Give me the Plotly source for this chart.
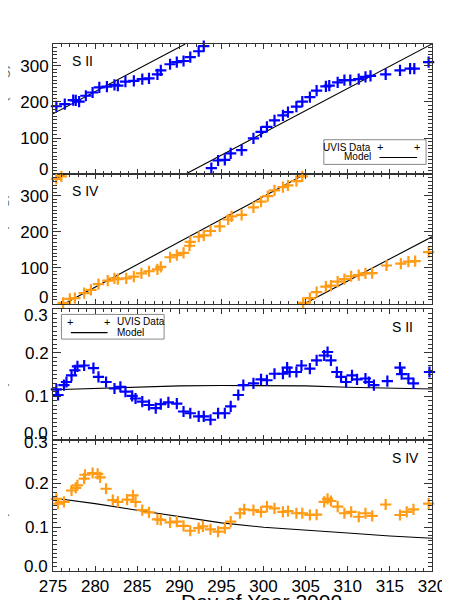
import plotly.graph_objects as go

# ---------------- data ----------------
# Panel 1: S II phase (deg)
s2_phase_day = [275.4, 276.4, 277.4, 277.7, 278.1, 278.9, 279.7, 280.5, 281.4, 282.3, 282.7,
                283.6, 284.6, 285.6, 286.4, 287.4, 287.8, 288.9, 289.7, 290.5, 291.3, 292.3,
                292.9, 293.8, 294.6, 295.4, 296.1, 297.4, 298.8, 299.7, 300.4, 301.3, 302.3,
                302.9, 303.9, 304.6, 305.5, 306.3, 307.4, 307.8, 308.8, 309.6, 310.3, 311.3,
                312.1, 312.7, 314.5, 316.2, 317.4, 317.9, 319.6]
s2_phase_val = [188, 194, 205, 204, 201, 217, 226, 240, 242, 247, 245,
                256, 258, 263, 265, 276, 287, 304, 310, 313, 324, 340,
                354, 17, 38, 40, 58, 67, 99, 117, 131, 149, 163,
                172, 187, 201, 213, 231, 243, 245, 254, 260, 260, 263,
                269, 272, 276, 287, 292, 292, 310]

# Panel 2: S IV phase (deg)
s4_phase_day = [275.4, 276.0, 276.2, 277.0, 277.6, 278.7, 279.5, 280.4, 281.5, 282.3, 282.7,
                283.7, 284.6, 285.5, 286.4, 287.4, 287.8, 288.9, 289.7, 290.5, 291.2, 291.3,
                292.3, 292.9, 293.7, 294.8, 295.8, 296.2, 297.4, 298.8, 299.7, 300.5, 301.3,
                302.3, 302.9, 303.9, 304.6, 304.7, 305.5, 306.3, 307.4, 308.0, 308.8, 309.6,
                310.4, 311.3, 312.1, 312.9, 314.6, 316.3, 317.2, 318.0, 319.6]
s4_phase_val = [347, 354, 2, 13, 15, 29, 38, 54, 64, 70, 68,
                70, 75, 84, 90, 95, 102, 129, 135, 141, 161, 172,
                186, 190, 202, 215, 234, 243, 247, 268, 284, 299, 315,
                324, 329, 341, 354, 2, 15, 32, 47, 50, 61, 68,
                76, 79, 84, 85, 106, 111, 117, 118, 143]

# Panel 3: S II amplitude
s2_amp_day = [275.4, 275.6, 276.3, 276.6, 277.2, 277.6, 277.9, 278.7, 279.8, 280.4, 281.3,
              282.3, 283.0, 283.6, 284.4, 284.8, 285.6, 286.4, 287.2, 287.8, 288.7, 289.7,
              290.5, 291.3, 292.3, 292.9, 293.7, 294.6, 295.4, 296.1, 297.0, 297.6, 298.8,
              299.7, 300.4, 301.3, 302.3, 302.8, 303.1, 303.9, 304.5, 305.5, 306.3, 307.2,
              307.6, 308.0, 308.7, 309.2, 309.8, 310.5, 311.1, 312.1, 312.5, 313.1, 314.7,
              316.2, 316.4, 317.2, 317.8, 319.7]
s2_amp_val = [0.116, 0.103, 0.126, 0.133, 0.148, 0.160, 0.169, 0.171, 0.165, 0.145, 0.133,
              0.118, 0.122, 0.111, 0.101, 0.095, 0.088, 0.080, 0.073, 0.082, 0.086, 0.083,
              0.065, 0.061, 0.054, 0.054, 0.046, 0.061, 0.061, 0.077, 0.103, 0.126, 0.130,
              0.139, 0.137, 0.152, 0.152, 0.166, 0.156, 0.156, 0.171, 0.164, 0.183, 0.194,
              0.202, 0.183, 0.156, 0.145, 0.133, 0.148, 0.139, 0.141, 0.133, 0.126, 0.135,
              0.166, 0.151, 0.141, 0.130, 0.156]

# Panel 4: S IV amplitude
s4_amp_day = [275.4, 275.6, 276.3, 277.2, 277.7, 277.9, 278.7, 278.8, 279.7, 280.3, 280.6,
              281.3, 282.1, 282.7, 283.8, 284.5, 284.8, 285.6, 286.4, 287.4, 287.8, 288.9,
              289.7, 290.5, 291.3, 292.3, 292.8, 293.7, 294.6, 295.4, 296.1, 297.2, 297.7,
              298.8, 299.7, 300.4, 301.3, 302.3, 302.9, 303.9, 304.6, 305.5, 306.3, 307.2,
              307.6, 308.0, 308.8, 309.6, 310.4, 311.3, 312.1, 312.9, 314.5, 316.2, 317.0,
              317.8, 319.6]
s4_amp_val = [0.165, 0.154, 0.158, 0.184, 0.190, 0.196, 0.211, 0.220, 0.224, 0.222, 0.214,
              0.188, 0.162, 0.158, 0.163, 0.173, 0.158, 0.139, 0.134, 0.118, 0.117, 0.111,
              0.113, 0.103, 0.092, 0.098, 0.102, 0.095, 0.090, 0.098, 0.113, 0.132, 0.141,
              0.139, 0.135, 0.147, 0.143, 0.135, 0.137, 0.132, 0.132, 0.128, 0.129, 0.158,
              0.165, 0.160, 0.147, 0.132, 0.135, 0.124, 0.132, 0.126, 0.152, 0.128, 0.135,
              0.141, 0.154]

# Model curves
s2_phase_model_day = [275, 290.7, None, 290.7, 320]
s2_phase_model_val = [167, 360, None, 0, 360]
s4_phase_model_day = [275, 276.4, None, 276.4, 304.9, None, 304.9, 320]
s4_phase_model_val = [343, 360, None, 0, 360, None, 0, 186]
amp_model_day = [275, 280, 285, 290, 295, 300, 305, 310, 315, 320]
s2_amp_model_val = [0.115, 0.118, 0.121, 0.124, 0.125, 0.125, 0.124, 0.121, 0.119, 0.117]
s4_amp_model_val = [0.167, 0.154, 0.139, 0.124, 0.110, 0.100, 0.094, 0.087, 0.080, 0.075]

x_ticks = [275, 280, 285, 290, 295, 300, 305, 310, 315, 320]
phase_ticks = [0, 100, 200, 300]
phase_ticktext = ["", "100", "200", "300"]          # "0" drawn as a shifted label below
amp_ticks = [0.0, 0.1, 0.2, 0.3]
amp_ticktext = ["", "0.1", "0.2", ""]               # end labels drawn shifted below

# ---------------- styling ----------------
BLUE = "rgb(0,0,255)"
ORANGE = "rgb(255,155,20)"
FONT = "Liberation Sans, Arial, Helvetica, sans-serif"
AX = "#333333"

W, H = 450, 600
ML, MR, MT, MB = 45, 23, 36, 30
PW, PH = W - ML - MR, H - MT - MB


def px(x):
    return (x - ML) / PW


def py(y):
    return (H - MB - y) / PH


domains = [
    [py(168), 1.0],
    [py(299), py(168)],
    [py(437), py(305)],
    [0.0, py(437)],
]

fig = go.Figure()

panels = [
    (s2_phase_day, s2_phase_val, s2_phase_model_day, s2_phase_model_val, BLUE),
    (s4_phase_day, s4_phase_val, s4_phase_model_day, s4_phase_model_val, ORANGE),
    (s2_amp_day, s2_amp_val, amp_model_day, s2_amp_model_val, BLUE),
    (s4_amp_day, s4_amp_val, amp_model_day, s4_amp_model_val, ORANGE),
]

for i, (dx, dy, mx, my, col) in enumerate(panels):
    xa = "x" if i == 0 else f"x{i+1}"
    ya = "y" if i == 0 else f"y{i+1}"
    fig.add_trace(go.Scatter(x=mx, y=my, mode="lines", xaxis=xa, yaxis=ya,
                             line=dict(color="black", width=1.1), showlegend=False,
                             connectgaps=False))
    fig.add_trace(go.Scatter(x=dx, y=dy, mode="markers", xaxis=xa, yaxis=ya,
                             marker=dict(symbol="cross-thin", size=8,
                                         line=dict(color=col, width=2.2)),
                             showlegend=False, cliponaxis=False))

layout = dict(
    width=W, height=H,
    margin=dict(l=ML, r=MR, t=MT, b=MB),
    paper_bgcolor="white", plot_bgcolor="white",
    font=dict(family=FONT, size=17, color="black"),
    showlegend=False,
)

for i in range(4):
    xk = "xaxis" if i == 0 else f"xaxis{i+1}"
    yk = "yaxis" if i == 0 else f"yaxis{i+1}"
    ya = "y" if i == 0 else f"y{i+1}"
    xa = "x" if i == 0 else f"x{i+1}"
    layout[xk] = dict(
        domain=[0, 1], anchor=ya, range=[275, 320],
        tickvals=x_ticks, showticklabels=(i == 3),
        ticks="inside", ticklen=5, tickwidth=1, tickcolor=AX,
        minor=dict(dtick=1, tick0=275, ticks="inside", ticklen=3, tickcolor=AX, tickwidth=1),
        showline=True, linecolor=AX, linewidth=1, mirror="allticks",
        showgrid=False, zeroline=False,
        tickfont=dict(size=17, family=FONT),
    )
    if i < 2:
        yd = dict(range=[0, 360], tickvals=phase_ticks, ticktext=phase_ticktext,
                  minor=dict(dtick=10, tick0=0, ticks="inside", ticklen=4, tickcolor=AX, tickwidth=1))
    else:
        yd = dict(range=[0, 0.3], tickvals=amp_ticks, ticktext=amp_ticktext,
                  minor=dict(dtick=0.01, tick0=0, ticks="inside", ticklen=4, tickcolor=AX, tickwidth=1))
    yd.update(domain=domains[i], anchor=xa,
              ticks="inside", ticklen=8, tickwidth=1, tickcolor=AX,
              showline=True, linecolor=AX, linewidth=1, mirror="allticks",
              showgrid=False, zeroline=False,
              tickfont=dict(size=17, family=FONT))
    layout[yk] = yd

fig.update_layout(**layout)

ann = []
shapes = []

# End-of-axis labels, nudged inward as in the reference
end_labels = [("y", phase_ticks[0], "0", 5), ("y2", phase_ticks[0], "0", 6),
              ("y3", amp_ticks[3], "0.3", -6), ("y3", amp_ticks[0], "0.0", 6),
              ("y4", amp_ticks[3], "0.3", -3), ("y4", amp_ticks[0], "0.0", 5)]
for yref, val, txt, shift in end_labels:
    ann.append(dict(x=px(41.5), y=val, xref="paper", yref=yref, text=txt, yshift=shift,
                    showarrow=False, xanchor="right", yanchor="middle",
                    font=dict(size=17)))

# Panel labels
ann.append(dict(x=px(62), y=py(53), xref="paper", yref="paper", text="S II",
                showarrow=False, xanchor="left", yanchor="middle", font=dict(size=14)))
ann.append(dict(x=px(62), y=py(185), xref="paper", yref="paper", text="S IV",
                showarrow=False, xanchor="left", yanchor="middle", font=dict(size=14)))
ann.append(dict(x=px(385), y=py(323), xref="paper", yref="paper", text="S II",
                showarrow=False, xanchor="left", yanchor="middle", font=dict(size=14)))
ann.append(dict(x=px(385), y=py(455), xref="paper", yref="paper", text="S IV",
                showarrow=False, xanchor="left", yanchor="middle", font=dict(size=14)))

# Legend in panel 1 (text left, symbols right)
shapes.append(dict(type="rect", xref="paper", yref="paper",
                   x0=px(318), x1=px(421), y0=py(158), y1=py(133),
                   line=dict(color="#888888", width=1), fillcolor="white"))
ann.append(dict(x=px(368), y=py(140.5), xref="paper", yref="paper", text="UVIS Data",
                showarrow=False, xanchor="right", yanchor="middle", font=dict(size=10)))
ann.append(dict(x=px(368), y=py(150.5), xref="paper", yref="paper", text="Model",
                showarrow=False, xanchor="right", yanchor="middle", font=dict(size=10)))
for xx in (375, 412):
    ann.append(dict(x=px(xx), y=py(140.5), xref="paper", yref="paper", text="+",
                    showarrow=False, xanchor="center", yanchor="middle", font=dict(size=11)))
shapes.append(dict(type="line", xref="paper", yref="paper",
                   x0=px(374), x1=px(412), y0=py(151), y1=py(151),
                   line=dict(color="black", width=1.1)))

# Legend in panel 3 (symbols left, text right)
shapes.append(dict(type="rect", xref="paper", yref="paper",
                   x0=px(53.5), x1=px(157), y0=py(335), y1=py(310),
                   line=dict(color="#888888", width=1), fillcolor="white"))
for xx in (62, 99.5):
    ann.append(dict(x=px(xx), y=py(317.5), xref="paper", yref="paper", text="+",
                    showarrow=False, xanchor="center", yanchor="middle", font=dict(size=11)))
shapes.append(dict(type="line", xref="paper", yref="paper",
                   x0=px(63), x1=px(100), y0=py(328.5), y1=py(328.5),
                   line=dict(color="black", width=1.1)))
ann.append(dict(x=px(107), y=py(317), xref="paper", yref="paper", text="UVIS Data",
                showarrow=False, xanchor="left", yanchor="middle", font=dict(size=10)))
ann.append(dict(x=px(107), y=py(328), xref="paper", yref="paper", text="Model",
                showarrow=False, xanchor="left", yanchor="middle", font=dict(size=10)))

# Axis titles (mostly cut off at the page edge, as in the reference)
for (yc, txt) in [(102, "Phase (deg)"), (233, "Phase (deg)"),
                  (371, "Amplitude"), (503, "Amplitude")]:
    ann.append(dict(x=px(4), y=py(yc), xref="paper", yref="paper", text=txt,
                    textangle=-90, showarrow=False, xanchor="right", yanchor="middle",
                    font=dict(size=17, color="#777777")))
ann.append(dict(x=px(255), y=py(587.5), xref="paper", yref="paper", text="Day of Year 2000",
                showarrow=False, xanchor="center", yanchor="top", font=dict(size=21)))

fig.update_layout(annotations=ann, shapes=shapes)

fig.write_html("out.html")
